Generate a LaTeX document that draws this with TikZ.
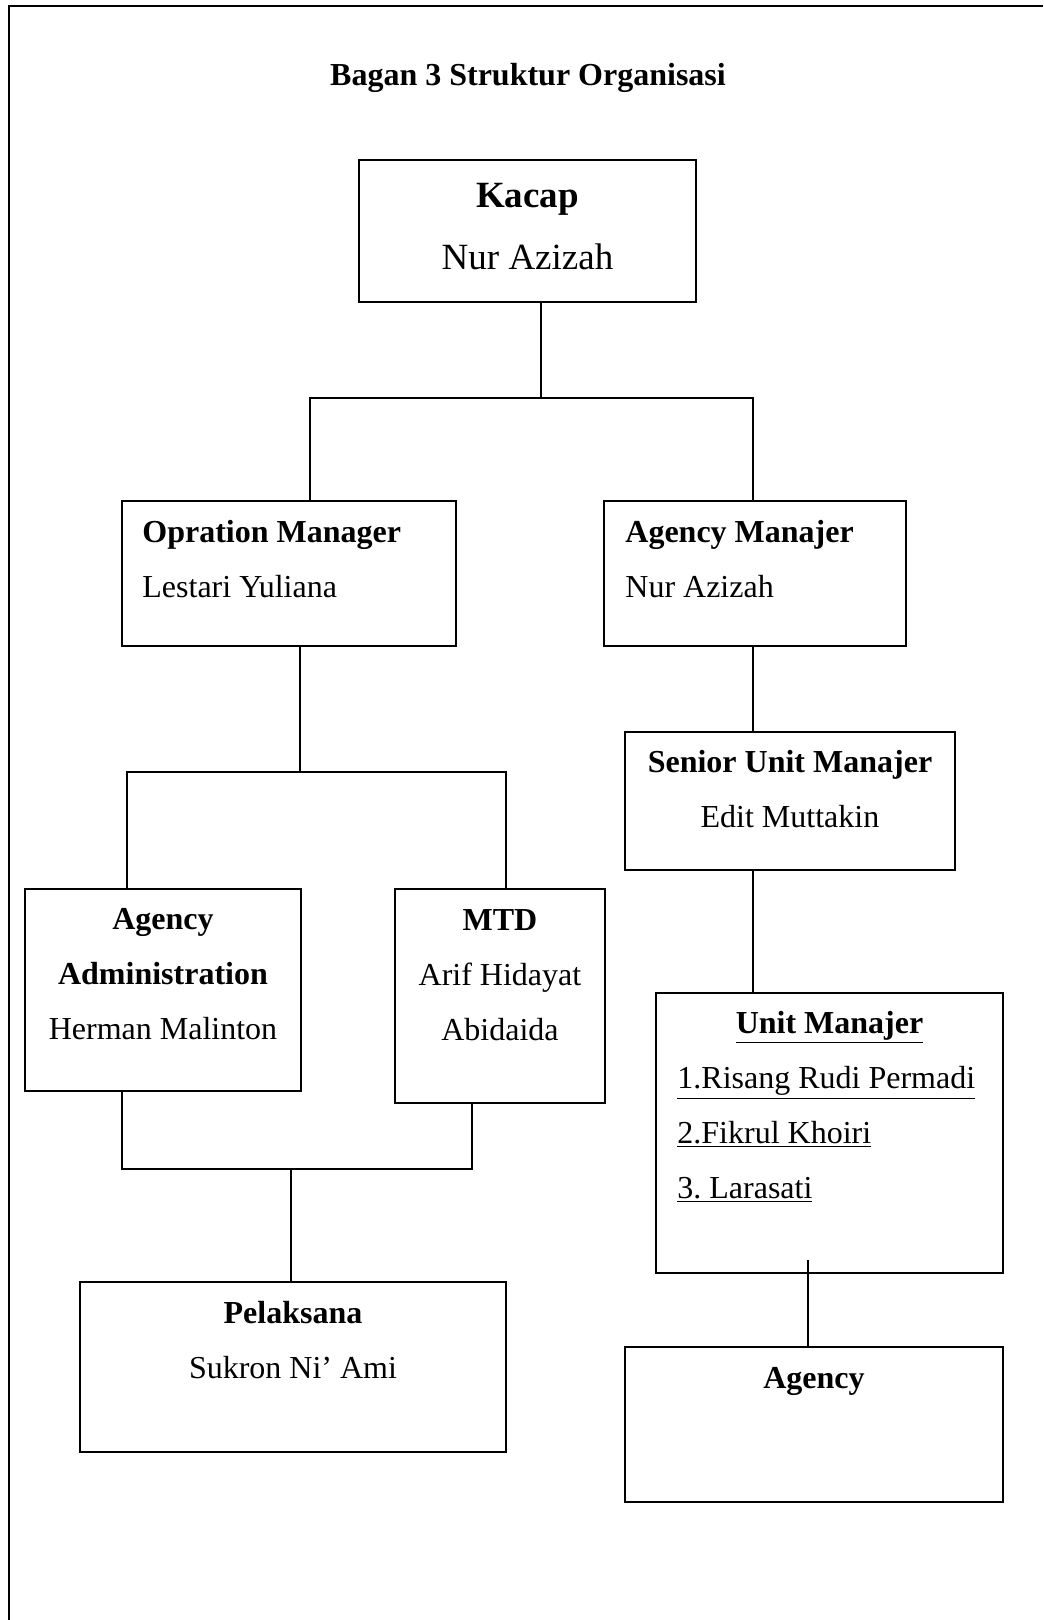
\documentclass[tikz,border=0pt]{standalone}
\usepackage{fontspec}
\setmainfont{Liberation Serif}

\begin{document}
\begin{tikzpicture}[x=0.5pt,y=-0.5pt]
    \tikzset{box/.style= {draw, rectangle, line width=0.9pt
    , outer sep=0pt
      }
    , txt/.style= {inner sep=0pt
    , font=\fontsize{16}{27.5}\selectfont
      }
    , link/.style= {draw, line width=0.8pt}
    }
\useasboundingbox (0,0) rectangle (1043,1620);
\draw[line width=0.8pt] (9,1620) -- (9,6) -- (1043,6);

\node [txt, anchor=base, font=\fontsize{16}{19}\selectfont\bfseries] (title) at (528,86) {Bagan 3 Struktur Organisasi};

% boxes
\node [box, minimum width=168.5pt, minimum height=71pt] (kacap) at (527.5,231) {};
\node [box, minimum width=167pt, minimum height=72.5pt] (opman) at (289,573.5) {};
\node [box, minimum width=151pt, minimum height=72.5pt] (agman) at (755,573.5) {};
\node [box, minimum width=165pt, minimum height=69pt] (senior) at (790,801) {};
\node [box, minimum width=138pt, minimum height=101pt] (admin) at (163,990) {};
\node [box, minimum width=105pt, minimum height=107pt] (mtd) at (500,996) {};
\node [box, minimum width=173.5pt, minimum height=140pt] (unit) at (829.5,1133) {};
\node [box, minimum width=213pt, minimum height=85pt] (pelak) at (293,1367) {};
\node [box, minimum width=189pt, minimum height=77.5pt] (agency) at (814,1424.5) {};

% texts
\node [txt, anchor=north, align=center, font=\fontsize{18.5}{31}\selectfont] (kacaptxt) at (527.5,183) {\textbf{Kacap}\\Nur Azizah};
\node [txt, anchor=north west, align=left] (opmantxt) at (142,520) {\textbf{Opration Manager}\\Lestari Yuliana};
\node [txt, anchor=north west, align=left] (agmantxt) at (625,520) {\textbf{Agency Manajer}\\Nur Azizah};
\node [txt, anchor=north, align=center] (seniortxt) at (790,750) {\textbf{Senior Unit Manajer}\\Edit Muttakin};
\node [txt, anchor=north, align=center] (admintxt) at (163,908) {\textbf{Agency}\\\textbf{Administration}\\Herman Malinton};
\node [txt, anchor=north, align=center] (mtdtxt) at (500,909) {\textbf{MTD}\\Arif Hidayat\\Abidaida};
\node [txt, anchor=base] (unittxt) at (829.5,1033) {\textbf{\underline{Unit Manajer}}};
\node [txt, anchor=north west, align=left] (unitlist) at (677,1066) {\underline{1.Risang Rudi Permadi}\\\underline{2.Fikrul Khoiri}\\\underline{3.\ Larasati}};
\node [txt, anchor=north, align=center] (pelaktxt) at (293,1301) {\textbf{Pelaksana}\\Sukron Ni’\ Ami};
\node [txt, anchor=base] (agencytxt) at (814,1388) {\textbf{Agency}};

% junctions
\coordinate (top) at (541,398);
\coordinate (topL) at (310,398);
\coordinate (topR) at (753,398);
\coordinate (mid) at (300,772);
\coordinate (midL) at (127,772);
\coordinate (midR) at (506,772);
\coordinate (low) at (291,1169);
\coordinate (lowL) at (122,1169);
\coordinate (lowR) at (472,1169);
\coordinate (ustub) at (808,1260);

 \path[link]
  (kacap.south -| top) -- (top);
 \path[link]
  (opman.north -| topL) -- (topL) -- (topR) -- (agman.north -| topR);
 \path[link]
  (opman.south -| mid) -- (mid);
 \path[link]
  (admin.north -| midL) -- (midL) -- (midR) -- (mtd.north -| midR);
 \path[link]
  (admin.south -| lowL) -- (lowL) -- (lowR) -- (mtd.south -| lowR);
 \path[link]
  (low) -- (pelak.north -| low);
 \path[link]
  (agman.south -| topR) -- (senior.north -| topR);
 \path[link]
  (senior.south -| topR) -- (unit.north -| topR);
 \path[link]
  (ustub) -- (agency.north -| ustub);
\end{tikzpicture}
\end{document}
